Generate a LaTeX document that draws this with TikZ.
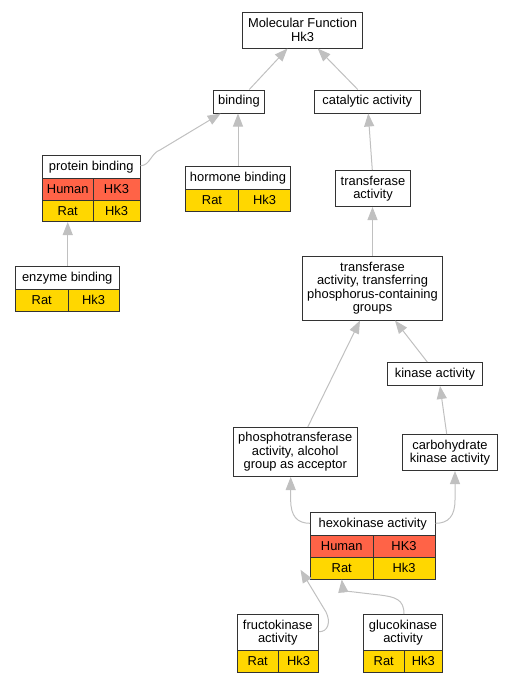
\documentclass[tikz,border=0pt]{standalone}
\usepackage{fontspec}
\setmainfont{Liberation Sans}
\usetikzlibrary{arrows.meta}
\definecolor{human}{HTML}{FF6347}
\definecolor{rat}{HTML}{FFD700}
\definecolor{edgec}{HTML}{C0C0C0}
\definecolor{bord}{HTML}{333333}
\tikzset{
  gobox/.style={draw=bord, line width=1pt, fill=white, inner sep=0pt, align=center,
    font=\fontsize{12.9}{13.5}\selectfont},
  humancell/.style={gobox, fill=human},
  ratcell/.style={gobox, fill=rat},
  goedge/.style={draw=edgec, line width=1pt, -{Triangle[length=13pt,width=10pt]}},
}
% style, name, x1, y1, x2, y2, text
\newcommand{\gbox}[7]{\node[#1, minimum width={(#5-#3)*1pt}, minimum height={(#6-#4)*1pt}] (#2) at ({(#3+#5)/2},{(#4+#6)/2}) {#7};}
\begin{document}
\begin{tikzpicture}[x=1pt,y=-1pt]
\useasboundingbox (0,0) rectangle (512,683);
% nodes
\gbox{gobox}{mol}{242.5}{12}{362.5}{48}{Molecular Function\\Hk3}
\gbox{gobox}{bind}{213.5}{90}{264.5}{113}{binding}
\gbox{gobox}{cat}{314.5}{90}{420}{113}{catalytic activity}
% protein binding
\gbox{gobox}{pb}{42.5}{155.5}{140}{178.5}{protein binding}
\gbox{humancell}{pbh1}{42.5}{178.5}{93}{200}{Human}
\gbox{humancell}{pbh2}{93}{178.5}{140}{200}{HK3}
\gbox{ratcell}{pbr1}{42.5}{200}{93}{221.5}{Rat}
\gbox{ratcell}{pbr2}{93}{200}{140}{221.5}{Hk3}
% hormone binding
\gbox{gobox}{hb}{185.5}{166.5}{290.5}{189.5}{hormone binding}
\gbox{ratcell}{hbr1}{185.5}{189.5}{238.5}{211}{Rat}
\gbox{ratcell}{hbr2}{238.5}{189.5}{290.5}{211}{Hk3}
% transferase activity
\gbox{gobox}{ta}{335.5}{170.5}{410.5}{206.5}{transferase\\activity}
% enzyme binding
\gbox{gobox}{eb}{15.5}{266}{119}{289.5}{enzyme binding}
\gbox{ratcell}{ebr1}{15.5}{289.5}{68}{311}{Rat}
\gbox{ratcell}{ebr2}{68}{289.5}{119}{311}{Hk3}
% transferring
\gbox{gobox}{tr}{302.5}{256.5}{442.5}{320}{transferase\\activity, transferring\\phosphorus-containing\\groups}
\gbox{gobox}{kin}{387.5}{362.5}{482.5}{385.5}{kinase activity}
\gbox{gobox}{ph}{233}{427.5}{357.5}{476.5}{phosphotransferase\\activity, alcohol\\group as acceptor}
\gbox{gobox}{cb}{402.5}{434.5}{497.5}{470.5}{carbohydrate\\kinase activity}
% hexokinase
\gbox{gobox}{hex}{310.5}{512.5}{435}{535.5}{hexokinase activity}
\gbox{humancell}{hexh1}{310.5}{535.5}{373}{557.5}{Human}
\gbox{humancell}{hexh2}{373}{535.5}{435}{557.5}{HK3}
\gbox{ratcell}{hexr1}{310.5}{557.5}{373}{579}{Rat}
\gbox{ratcell}{hexr2}{373}{557.5}{435}{579}{Hk3}
% fructokinase
\gbox{gobox}{fru}{237}{614.5}{318.5}{650.5}{fructokinase\\activity}
\gbox{ratcell}{frur1}{237}{650.5}{278.5}{672}{Rat}
\gbox{ratcell}{frur2}{278.5}{650.5}{318.5}{672}{Hk3}
% glucokinase
\gbox{gobox}{glu}{363.5}{614.5}{442.5}{650.5}{glucokinase\\activity}
\gbox{ratcell}{glur1}{363.5}{650.5}{404}{672}{Rat}
\gbox{ratcell}{glur2}{404}{650.5}{442.5}{672}{Hk3}
% edges
\draw[goedge] ([xshift=10.3pt]bind.north) -- ([xshift=-15pt]mol.south);
\draw[goedge] ([xshift=-9.5pt]cat.north) -- ([xshift=15.2pt]mol.south);
\coordinate (pbk) at (160,150);
\draw[goedge] ([yshift=1.3pt]pb.east) .. controls (150,165.7) and (151,153) .. (pbk) -- ([xshift=-18.3pt]bind.south);
\draw[goedge] (hb.north) -- (hb.north |- bind.south);
\draw[goedge] ([xshift=-0.7pt]ta.north) -- ([xshift=1pt]cat.south);
\draw[goedge] (tr.north) -- (tr.north |- ta.south);
\draw[goedge] (eb.north -| pbr1.south) -- (pbr1.south);
\draw[goedge] ([xshift=-7.7pt]kin.north) -- ([xshift=22.5pt]tr.south);
\draw[goedge] ([xshift=12.5pt]ph.north) -- ([xshift=-12.5pt]tr.south);
\draw[goedge] ([xshift=-3.3pt]cb.north) -- ([xshift=5pt]kin.south);
\coordinate (hk1) at (290.7,500);
\draw[goedge] ([yshift=0.7pt]hex.west) .. controls (297,523.3) and (290.7,516) .. (hk1) -- ([xshift=-4.55pt]ph.south);
\coordinate (hk2) at (455,500);
\draw[goedge] ([yshift=0.7pt]hex.east) .. controls (448.5,523.3) and (455,516) .. (hk2) -- ([xshift=5pt]cb.south);
\coordinate (fk) at (326,612);
\draw[goedge] ([yshift=0.8pt]fru.east) .. controls (328,632) and (331,622) .. (fk) -- ([xshift=-9.5pt,yshift=-1.5pt]hexr1.west);
\coordinate (gk) at (380,595);
\draw[goedge] ([xshift=1pt]glu.north) .. controls (404,599) and (395,597) .. (gk) .. controls (352,592) and (343,590) .. (hexr1.south);
\end{tikzpicture}
\end{document}
